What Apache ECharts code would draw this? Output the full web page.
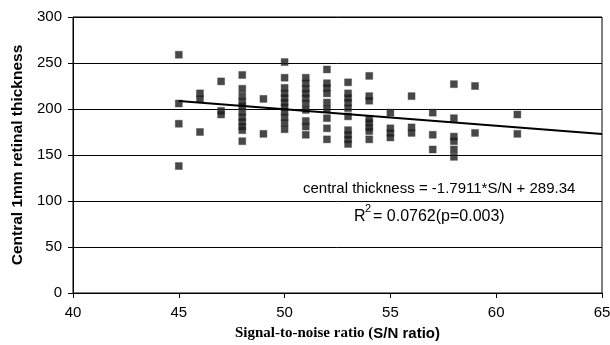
<!DOCTYPE html>
<html><head><meta charset="utf-8">
<script src="https://cdn.jsdelivr.net/npm/echarts@6/dist/echarts.min.js"></script>
<style>html,body{margin:0;padding:0;background:#fff}#c{width:610px;height:345px}</style>
</head><body><div id="c"></div>
<script>
// S/N ratio columns and the thickness values observed in each
const snValues = [45, 46, 47, 48, 49, 50, 51, 52, 53, 54, 55, 56, 57, 58, 59, 61];
const thicknessBySN = [
  [259, 206, 184, 138],
  [217, 211, 175],
  [230, 198, 194],
  [237, 222, 214, 208, 203, 197, 191, 186, 181, 177, 165],
  [211, 173],
  [251, 234, 223, 217, 212, 207, 202, 197, 191, 185, 178],
  [234, 228, 222, 217, 212, 206, 199, 187, 181, 172],
  [243, 228, 223, 217, 207, 200, 190, 179, 167],
  [229, 217, 212, 207, 201, 192, 177, 172, 167, 162],
  [236, 214, 209, 189, 185, 180, 176, 167],
  [196, 179, 174, 169],
  [214, 180, 174],
  [196, 172, 156],
  [227, 190, 170, 165, 156, 148],
  [225, 174],
  [194, 173]
];
const xTicks = [40, 45, 50, 55, 60, 65];
const yTicks = [0, 50, 100, 150, 200, 250, 300];
const slope = -1.7911;
const intercept = 289.34;
const trendRange = [45, 65];
const equationText = 'central thickness = -1.7911*S/N + 289.34';
const r2Text = '= 0.0762(p=0.003)';

const points = [];
snValues.forEach((sn, i) => thicknessBySN[i].forEach(v => points.push([sn, v])));
const trend = trendRange.map(x => [x, slope * x + intercept]);

const chart = echarts.init(document.getElementById('c'), null, {renderer: 'canvas'});
chart.setOption({
  animation: false,
  backgroundColor: '#fff',
  grid: {left: 73, right: 8, top: 17, bottom: 52, containLabel: false, outerBoundsMode: 'none',
         show: true, borderColor: '#000', borderWidth: 1},
  xAxis: {
    type: 'value', min: xTicks[0], max: xTicks[xTicks.length - 1], interval: 5,
    axisLine: {show: true, lineStyle: {color: '#000', width: 1}},
    axisTick: {show: true, length: 5, lineStyle: {color: '#000'}},
    splitLine: {show: false},
    axisLabel: {color: '#000', fontFamily: 'Liberation Sans', fontSize: 15, margin: 12},
    name: '{a|Signal-to-noise ratio (}{b|S/N ratio)}',
    nameLocation: 'middle', nameGap: 33,
    nameTextStyle: {rich: {
      a: {fontFamily: 'Liberation Serif', fontWeight: 'bold', fontSize: 15, color: '#000'},
      b: {fontFamily: 'Liberation Sans', fontWeight: 'bold', fontSize: 15, color: '#000'}
    }}
  },
  yAxis: {
    type: 'value', min: yTicks[0], max: yTicks[yTicks.length - 1], interval: 50,
    axisLine: {show: true, lineStyle: {color: '#000', width: 1}},
    axisTick: {show: true, length: 5, lineStyle: {color: '#000'}},
    splitLine: {show: true, lineStyle: {color: '#000', width: 1}},
    axisLabel: {color: '#000', fontFamily: 'Liberation Sans', fontSize: 15, margin: 11},
    name: 'Central 1mm retinal thickness',
    nameLocation: 'middle', nameGap: 43,
    nameTextStyle: {fontFamily: 'Liberation Sans', fontWeight: 'bold', fontSize: 15.5, color: '#000'}
  },
  series: [
    {
      type: 'scatter', data: points, symbol: 'rect', symbolSize: 7,
      itemStyle: {color: '#1a1a1a', borderColor: '#444', borderWidth: 0.5}, z: 3
    },
    {
      type: 'line', data: trend, symbol: 'none',
      lineStyle: {color: '#000', width: 2}, z: 4
    }
  ],
  graphic: [
    {type: 'text', left: 303, top: 181, style: {text: equationText, font: '15px "Liberation Sans"', fill: '#000'}},
    {type: 'text', left: 354, top: 209, style: {text: 'R', font: '16px "Liberation Sans"', fill: '#000'}},
    {type: 'text', left: 365, top: 203, style: {text: '2', font: '11px "Liberation Sans"', fill: '#000'}},
    {type: 'text', left: 373, top: 209, style: {text: r2Text, font: '16px "Liberation Sans"', fill: '#000'}}
  ]
});
</script></body></html>
